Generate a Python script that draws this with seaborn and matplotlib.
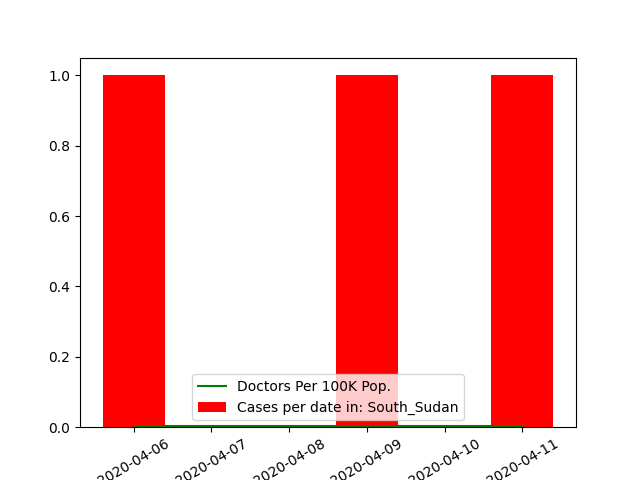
import matplotlib
matplotlib.use("Agg")
import matplotlib.pyplot as plt
import matplotlib.dates as mdates
import seaborn as sns
import pandas as pd

dates = ["2020-04-06", "2020-04-07", "2020-04-08", "2020-04-09", "2020-04-10", "2020-04-11"]
cases = [1, 0, 0, 1, 0, 1]
doctors = [0.002, 0.002, 0.002, 0.002, 0.002, 0.002]
country = "South_Sudan"

df = pd.DataFrame({"date": pd.to_datetime(dates), "cases": cases, "doctors": doctors})

fig, ax = plt.subplots(figsize=(6.4, 4.8), dpi=100)
ax.bar(df["date"], df["cases"], color="red", label="Cases per date in: " + country)
sns.lineplot(data=df, x="date", y="doctors", color="green", label="Doctors Per 100K Pop.", ax=ax)
ax.xaxis.set_major_locator(mdates.DayLocator())
ax.xaxis.set_major_formatter(mdates.DateFormatter("%Y-%m-%d"))
ax.set_xlabel("")
ax.set_ylabel("")
ax.set_ylim(0, 1.05)
plt.setp(ax.get_xticklabels(), rotation=30)
ax.legend(loc="lower center")
fig.savefig("out.png", dpi=100)
